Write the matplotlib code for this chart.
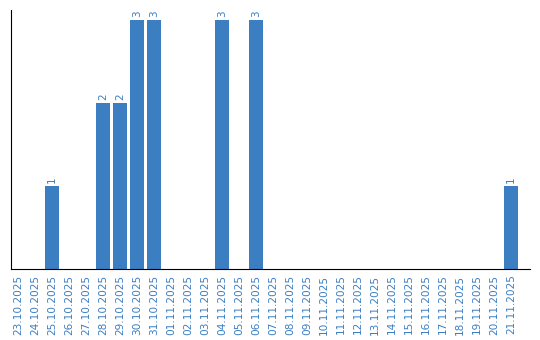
import matplotlib
matplotlib.use("Agg")
import matplotlib.pyplot as plt
import numpy as np

dates = ["23.10.2025", "24.10.2025", "25.10.2025", "26.10.2025", "27.10.2025",
         "28.10.2025", "29.10.2025", "30.10.2025", "31.10.2025", "01.11.2025",
         "02.11.2025", "03.11.2025", "04.11.2025", "05.11.2025", "06.11.2025",
         "07.11.2025", "08.11.2025", "09.11.2025", "10.11.2025", "11.11.2025",
         "12.11.2025", "13.11.2025", "14.11.2025", "15.11.2025", "16.11.2025",
         "17.11.2025", "18.11.2025", "19.11.2025", "20.11.2025", "21.11.2025"]
counts = [0, 0, 1, 0, 0, 2, 2, 3, 3, 0,
          0, 0, 3, 0, 3, 0, 0, 0, 0, 0,
          0, 0, 0, 0, 0, 0, 0, 0, 0, 1]

color = "#3b7ec2"
fig = plt.figure(figsize=(5.4, 3.4), dpi=100)
ax = fig.add_axes([11/540, 1 - 269/340, (530 - 11)/540, (269 - 10)/340])
x = np.arange(len(dates))
bars = ax.bar(x, counts, width=0.82, color=color)
for xi, v in zip(x, counts):
    if v > 0:
        ax.text(xi, v + 0.03, str(v), rotation=90, ha="center", va="bottom",
                color=color, fontsize=7.5)
ax.set_xlim(-0.41, len(dates) - 1 + 1.12)
ax.set_ylim(0, 3.12)
ax.set_xticks(x)
ax.set_xticklabels(dates, rotation=90, fontsize=7.6, color=color)
ax.tick_params(axis="x", length=0, pad=4)
ax.set_yticks([])
ax.spines["top"].set_visible(False)
ax.spines["right"].set_visible(False)
ax.spines["left"].set_color("black")
ax.spines["bottom"].set_color("black")
fig.savefig("out.png", dpi=100)
